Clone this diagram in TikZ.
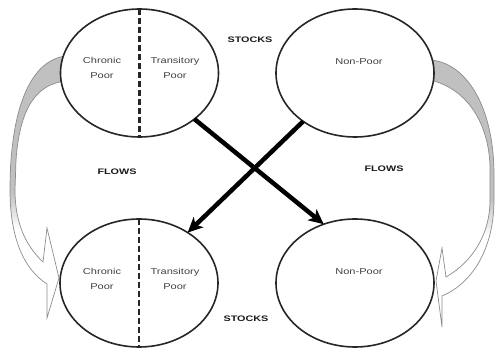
\documentclass[tikz,border=0pt]{standalone}
\usepackage{fontspec}
\setmainfont{Liberation Sans}
\usetikzlibrary{shapes.geometric,arrows.meta}
\definecolor{bandgray}{RGB}{192,192,192}
\pgfdeclareverticalshading{bandshade}{100bp}{color(0bp)=(white); color(25bp)=(white); color(42bp)=(white); color(49bp)=(bandgray); color(75bp)=(bandgray); color(100bp)=(bandgray)}
\newcommand{\stretchtxt}[1]{\scalebox{1.3}[1]{#1}}
\newcommand{\stretchhead}[1]{\scalebox{1.35}[1]{#1}}
\tikzset{
  stock/.style={ellipse, draw=black!85, line width=1.6pt, fill=white,
    minimum width=158pt, minimum height=128pt, inner sep=0pt, outer sep=0pt},
  lbl/.style={font=\fontsize{8.5}{15}\selectfont, text=black!75, align=center, inner sep=0pt},
  head/.style={font=\bfseries\fontsize{8}{10}\selectfont, text=black!90, inner sep=0pt},
  flow/.style={line width=4.5pt, -{Stealth[length=15pt,width=14pt,inset=4pt]}},
  divider/.style={line width=2.6pt, dash pattern=on 6pt off 3pt, black!85},
  band/.style={shading=bandshade, draw=black!45, line width=0.7pt}
}
\begin{document}
\begin{tikzpicture}[x=1pt,y=-1pt]
\useasboundingbox (0,0) rectangle (496,352);
% curved flow bands
\shadedraw[band] (66,56) .. controls (30,60) and (10,110) .. (10,190)
  .. controls (10,240) and (25,270) .. (47,284) -- (47,318) -- (59,278) -- (47,228) -- (43,262)
  .. controls (25,245) and (15,222) .. (15,190) -- (16,160)
  .. controls (20,105) and (38,84) .. (66,81) -- cycle;
\shadedraw[band] (430,60) .. controls (465,62) and (494,105) .. (494,175) -- (494,200)
  .. controls (494,245) and (475,282) .. (442,296) -- (442,327) -- (436,281) -- (442,248) -- (446,277)
  .. controls (472,262) and (490,235) .. (490,200) -- (490,165)
  .. controls (488,120) and (465,88) .. (430,80) -- cycle;
% stocks
\node[stock] (TL) at (139.5,73) {};
\node[stock] (TR) at (355,73) {};
\node[stock] (BL) at (139,283) {};
\node[stock] (BR) at (355,283) {};
\draw[divider] (TL.north) -- (TL.south);
\draw[divider] (BL.north) -- (BL.south);
% flows
\draw[flow] (TL.-40.5) -- (BR.118.9);
\draw[flow] (TR.223.9) -- (BL.46);
% labels
\node[lbl] (tlc) at (102,67.5) {\stretchtxt{Chronic}\\\stretchtxt{Poor}};
\node[lbl] (tlt) at (175,67.5) {\stretchtxt{Transitory}\\\stretchtxt{Poor}};
\node[lbl] (trn) at (359,62) {\stretchtxt{Non-Poor}};
\node[lbl] (blc) at (102,278.5) {\stretchtxt{Chronic}\\\stretchtxt{Poor}};
\node[lbl] (blt) at (175,278.5) {\stretchtxt{Transitory}\\\stretchtxt{Poor}};
\node[lbl] (brn) at (359,272) {\stretchtxt{Non-Poor}};
\node[head] (st1) at (250,40) {\stretchhead{STOCKS}};
\node[head] (st2) at (246,319) {\stretchhead{STOCKS}};
\node[head] (fl1) at (117,172) {\stretchhead{FLOWS}};
\node[head] (fl2) at (384,169) {\stretchhead{FLOWS}};
\end{tikzpicture}
\end{document}
